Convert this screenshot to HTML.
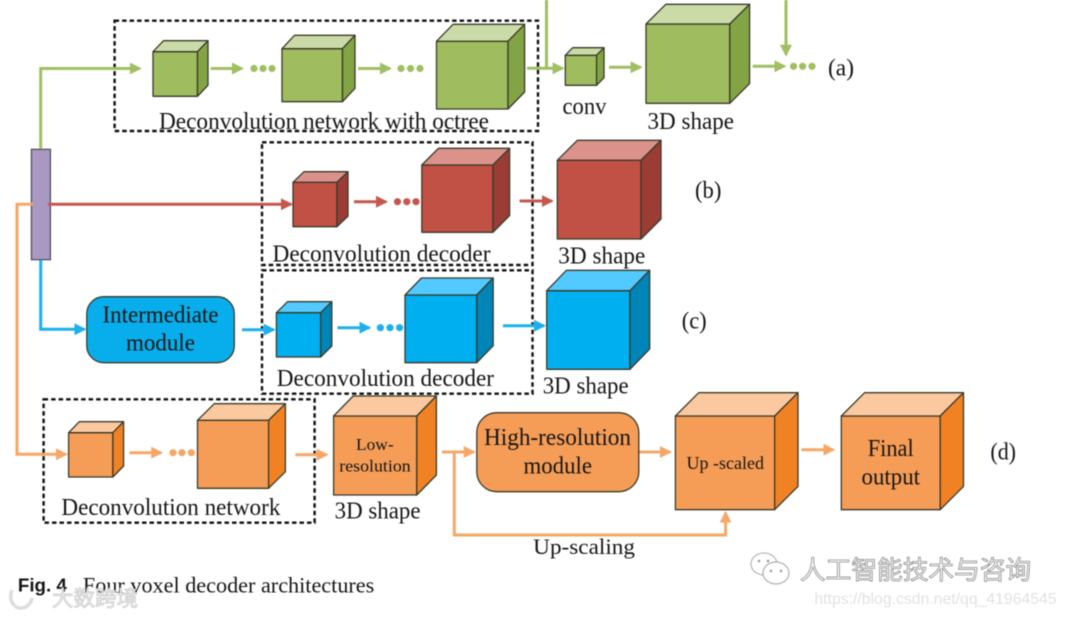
<!DOCTYPE html>
<html><head><meta charset="utf-8"><style>
html,body{margin:0;padding:0;background:#fff;width:1066px;height:617px;overflow:hidden}
svg{display:block;filter:blur(.45px)}
text{font-family:"Liberation Serif",serif;fill:#151515;font-size:24px}
.d{fill:none;stroke:#111;stroke-width:2.4;stroke-dasharray:4.5 3}
.k polygon,.k rect{stroke:#3a3a2a;stroke-width:1.3;stroke-linejoin:round}
.gf{fill:#9fbc5f}.gt{fill:#cbdba8}.gs{fill:#83a444}
.rf{fill:#c15045}.rt{fill:#da928a}.rs{fill:#9c3d35}
.bf{fill:#00aff0}.bt{fill:#52caff}.bs{fill:#0085b8}
.of{fill:#f59d57}.ot{fill:#fbc99f}.os{fill:#f08224}
.lg{stroke:#9fbf62;stroke-width:3;fill:none}.lr{stroke:#c5574c;stroke-width:3;fill:none}
.lb{stroke:#1cb0ec;stroke-width:3;fill:none}.lo{stroke:#f6a767;stroke-width:3;fill:none}
</style></head><body>
<svg width="1066" height="617" viewBox="0 0 1066 617" xmlns="http://www.w3.org/2000/svg">
<defs>
<marker id="ag" markerUnits="userSpaceOnUse" markerWidth="12" markerHeight="12" refX="10" refY="6" orient="auto"><path d="M0 0L12 6L0 12z" fill="#9fbf62"/></marker>
<marker id="ar" markerUnits="userSpaceOnUse" markerWidth="12" markerHeight="12" refX="10" refY="6" orient="auto"><path d="M0 0L12 6L0 12z" fill="#c5574c"/></marker>
<marker id="ab" markerUnits="userSpaceOnUse" markerWidth="12" markerHeight="12" refX="10" refY="6" orient="auto"><path d="M0 0L12 6L0 12z" fill="#1cb0ec"/></marker>
<marker id="ao" markerUnits="userSpaceOnUse" markerWidth="12" markerHeight="12" refX="10" refY="6" orient="auto"><path d="M0 0L12 6L0 12z" fill="#f6a767"/></marker>
</defs>

<!-- dashed boxes -->
<rect class="d" x="114.6" y="20.7" width="423.4" height="110.3"/>
<rect class="d" x="262" y="142.3" width="270.5" height="122.7"/>
<rect class="d" x="262" y="270.3" width="270.5" height="123.4"/>
<rect class="d" x="43.6" y="399.3" width="271" height="123.4"/>

<!-- purple bar -->
<rect x="31.4" y="149.3" width="19" height="110.4" fill="#a898c2" stroke="#4a4a55" stroke-width="1.2"/>

<!-- green connectors -->
<path class="lg" d="M40.7 149V68.5H139.8" marker-end="url(#ag)"/>
<path class="lg" d="M210.7 68.5H242" marker-end="url(#ag)"/>
<path class="lg" d="M358 68.5H390" marker-end="url(#ag)"/>
<path class="lg" d="M527 68.3H562.6" marker-end="url(#ag)"/>
<path class="lg" d="M546.5 0V68"/>
<path class="lg" d="M609 67.3H640.6" marker-end="url(#ag)"/>
<path class="lg" d="M752.7 66.3H784.5" marker-end="url(#ag)"/>
<path class="lg" d="M786 0V54.7" marker-end="url(#ag)"/>
<g fill="#9fbf62"><circle cx="254" cy="68.5" r="3.6"/><circle cx="263" cy="68.5" r="3.6"/><circle cx="272" cy="68.5" r="3.6"/>
<circle cx="401" cy="68.5" r="3.6"/><circle cx="410.500" cy="68.5" r="3.6"/><circle cx="420" cy="68.5" r="3.6"/>
<circle cx="793.500" cy="66.3" r="3.6"/><circle cx="802.600" cy="66.3" r="3.6"/><circle cx="812" cy="66.3" r="3.6"/></g>

<!-- red connectors -->
<path class="lr" d="M48 204.3H291" marker-end="url(#ar)"/>
<path class="lr" d="M354 201.7H386" marker-end="url(#ar)"/>
<path class="lr" d="M519.6 201H551.800" marker-end="url(#ar)"/>
<g fill="#c5574c"><circle cx="397.500" cy="201.700" r="3.600"/><circle cx="406.800" cy="201.700" r="3.600"/><circle cx="416" cy="201.700" r="3.600"/></g>

<!-- blue connectors -->
<path class="lb" d="M40.700 260V329.300H84.400" marker-end="url(#ab)"/>
<path class="lb" d="M242 329.700H273.700" marker-end="url(#ab)"/>
<path class="lb" d="M337.500 327.700H369.400" marker-end="url(#ab)"/>
<path class="lb" d="M503 325.700H544" marker-end="url(#ab)"/>
<g fill="#1cb0ec"><circle cx="380.400" cy="327.700" r="3.600"/><circle cx="390" cy="327.700" r="3.600"/><circle cx="399.600" cy="327.700" r="3.600"/></g>

<!-- orange connectors -->
<path class="lo" d="M33 204.300H17V454.300H66" marker-end="url(#ao)"/>
<path class="lo" d="M129.600 452.700H161.200" marker-end="url(#ao)"/>
<path class="lo" d="M295.400 454.700H326.600" marker-end="url(#ao)"/>
<path class="lo" d="M442 452H473.700" marker-end="url(#ao)"/>
<path class="lo" d="M454.300 452V535H725.600V512.700" marker-end="url(#ao)"/>
<path class="lo" d="M639 452H670" marker-end="url(#ao)"/>
<path class="lo" d="M801.500 449.700H833.300" marker-end="url(#ao)"/>
<g fill="#f6a767"><circle cx="173" cy="452.700" r="3.600"/><circle cx="182" cy="452.700" r="3.600"/><circle cx="191.400" cy="452.700" r="3.600"/></g>

<!-- cubes -->
<g class="k">
<rect class="gf" x="153" y="51.700" width="44.500" height="44.600"/><polygon class="gt" points="153,51.700 163.500,40.700 208,40.700 197.500,51.700"/><polygon class="gs" points="197.500,51.700 208,40.700 208,85.300 197.500,96.300"/>
<rect class="gf" x="282" y="48.700" width="60.500" height="53"/><polygon class="gt" points="282,48.700 294.500,35.300 355,35.300 342.500,48.700"/><polygon class="gs" points="342.500,48.700 355,35.300 355,88.300 342.500,101.700"/>
<rect class="gf" x="436.500" y="41.300" width="71.500" height="67.700"/><polygon class="gt" points="436.500,41.300 453,24.300 524.600,24.300 508,41.300"/><polygon class="gs" points="508,41.300 524.600,24.300 524.600,92 508,109"/>
<rect class="gf" x="565.300" y="55.300" width="31.300" height="30"/><polygon class="gt" points="565.300,55.300 572.700,47.700 604,47.700 596.600,55.300"/><polygon class="gs" points="596.600,55.300 604,47.700 604,77.700 596.600,85.300"/>
<rect class="gf" x="646" y="24" width="83.800" height="79.300"/><polygon class="gt" points="646,24 665.800,4.300 749.600,4.300 729.800,24"/><polygon class="gs" points="729.800,24 749.600,4.300 749.600,83.600 729.800,103.300"/>

<rect class="rf" x="293" y="182.300" width="44" height="44.400"/><polygon class="rt" points="293,182.300 304,171.700 348,171.700 337,182.300"/><polygon class="rs" points="337,182.300 348,171.700 348,216.100 337,226.700"/>
<rect class="rf" x="421.800" y="165" width="71.200" height="67.300"/><polygon class="rt" points="421.800,165 438.400,148.300 509.600,148.300 493,165"/><polygon class="rs" points="493,165 509.600,148.300 509.600,215.600 493,232.300"/>
<rect class="rf" x="557.300" y="160.300" width="83.700" height="78.700"/><polygon class="rt" points="557.300,160.300 577.300,140.300 661,140.300 641,160.300"/><polygon class="rs" points="641,160.300 661,140.300 661,219 641,239"/>

<rect class="bf" x="276.400" y="312.700" width="44.300" height="44.300"/><polygon class="bt" points="276.400,312.700 287.500,301.700 331.800,301.700 320.700,312.700"/><polygon class="bs" points="320.700,312.700 331.800,301.700 331.800,346 320.700,357"/>
<rect class="bf" x="405" y="295" width="71.800" height="67.700"/><polygon class="bt" points="405,295 421.400,278 493.200,278 476.800,295"/><polygon class="bs" points="476.800,295 493.200,278 493.200,345.700 476.800,362.700"/>
<rect class="bf" x="546.700" y="290.700" width="83.300" height="78.600"/><polygon class="bt" points="546.700,290.700 566.400,270.300 649.700,270.300 630,290.700"/><polygon class="bs" points="630,290.700 649.700,270.300 649.700,348.900 630,369.300"/>

<rect class="of" x="68.600" y="432.700" width="44.300" height="44.300"/><polygon class="ot" points="68.600,432.700 79.300,421.700 123.600,421.700 112.900,432.700"/><polygon class="os" points="112.900,432.700 123.600,421.700 123.600,466 112.900,477"/>
<rect class="of" x="197.500" y="420.300" width="71.100" height="68"/><polygon class="ot" points="197.500,420.300 214.300,403.700 285.400,403.700 268.600,420.300"/><polygon class="os" points="268.600,420.300 285.400,403.700 285.400,471.700 268.600,488.300"/>
<rect class="of" x="333.600" y="416" width="83.200" height="79"/><polygon class="ot" points="333.600,416 353.200,396 436.400,396 416.800,416"/><polygon class="os" points="416.800,416 436.400,396 436.400,475 416.800,495"/>
<rect class="of" x="675.400" y="416" width="99.300" height="93.700"/><polygon class="ot" points="675.400,416 698.700,392.700 798,392.700 774.700,416"/><polygon class="os" points="774.700,416 798,392.700 798,486.400 774.700,509.700"/>
<rect class="of" x="841.300" y="416" width="98.900" height="93.700"/><polygon class="ot" points="841.300,416 864.600,392.700 963.500,392.700 940.200,416"/><polygon class="os" points="940.200,416 963.500,392.700 963.500,486.400 940.200,509.700"/>

<rect class="bf" x="86.800" y="296.700" width="147.500" height="66" rx="17" ry="17" style="fill:#08aeec"/>
<rect class="of" x="476.800" y="412.700" width="162" height="79" rx="20" ry="20"/>
</g>

<!-- labels -->
<text x="159" y="129" textLength="330" lengthAdjust="spacingAndGlyphs">Deconvolution network with octree</text>
<text x="272.500" y="261.700" textLength="218" lengthAdjust="spacingAndGlyphs">Deconvolution decoder</text>
<text x="276.800" y="386" textLength="217.200" lengthAdjust="spacingAndGlyphs">Deconvolution decoder</text>
<text x="61.400" y="515" textLength="219" lengthAdjust="spacingAndGlyphs">Deconvolution network</text>
<text x="562.500" y="114" textLength="44" lengthAdjust="spacingAndGlyphs">conv</text>
<text x="647.500" y="129" textLength="86.500" lengthAdjust="spacingAndGlyphs">3D shape</text>
<text x="558.300" y="263.300" textLength="87" lengthAdjust="spacingAndGlyphs">3D shape</text>
<text x="542.700" y="393.300" textLength="86" lengthAdjust="spacingAndGlyphs">3D shape</text>
<text x="334.600" y="518.300" textLength="86" lengthAdjust="spacingAndGlyphs">3D shape</text>
<text x="828" y="75.700" textLength="26" lengthAdjust="spacingAndGlyphs">(a)</text>
<text x="695" y="198" textLength="26.400" lengthAdjust="spacingAndGlyphs">(b)</text>
<text x="681.700" y="328.300" textLength="25" lengthAdjust="spacingAndGlyphs">(c)</text>
<text x="990.400" y="459.300" textLength="25.600" lengthAdjust="spacingAndGlyphs">(d)</text>
<text x="102.500" y="322.700" textLength="116" lengthAdjust="spacingAndGlyphs">Intermediate</text>
<text x="126" y="350.700" textLength="69" lengthAdjust="spacingAndGlyphs">module</text>
<text x="356" y="450" style="font-size:17px" textLength="37.600" lengthAdjust="spacingAndGlyphs">Low-</text>
<text x="339.300" y="471.700" style="font-size:17px" textLength="71.400" lengthAdjust="spacingAndGlyphs">resolution</text>
<text x="484" y="445" textLength="147" lengthAdjust="spacingAndGlyphs">High-resolution</text>
<text x="523.500" y="473.300" textLength="68.500" lengthAdjust="spacingAndGlyphs">module</text>
<text x="686.500" y="469" style="font-size:17.500px" textLength="77.500" lengthAdjust="spacingAndGlyphs">Up -scaled</text>
<text x="867.700" y="456" textLength="46" lengthAdjust="spacingAndGlyphs">Final</text>
<text x="861.500" y="484.300" textLength="58.500" lengthAdjust="spacingAndGlyphs">output</text>
<text x="533.200" y="554" style="font-size:22.500px" textLength="101.800" lengthAdjust="spacingAndGlyphs">Up-scaling</text>

<!-- caption -->
<text x="17.900" y="591.700" style="font-family:'Liberation Sans',sans-serif;font-weight:bold;font-size:18px" textLength="48.900" lengthAdjust="spacingAndGlyphs">Fig. 4</text>
<text x="82.900" y="592.300" style="font-size:22.500px" textLength="291.400" lengthAdjust="spacingAndGlyphs">Four voxel decoder architectures</text>

<!-- watermarks -->
<path d="M12 590C8 600 14 609 22 608C28 607 31 603 32 598" fill="none" stroke="#dddddd" stroke-width="3.500"/>
<g stroke-width="1">
<ellipse cx="764" cy="564" rx="13" ry="11" fill="#fff" stroke="#a8a8a8"/>
<ellipse cx="776" cy="573" rx="13" ry="11" fill="#fff" stroke="#a0a0a0"/>
<circle cx="759" cy="561" r="1.300" fill="#999"/><circle cx="768" cy="561" r="1.300" fill="#999"/>
<circle cx="771" cy="571" r="1.300" fill="#999"/><circle cx="781" cy="571" r="1.300" fill="#999"/>
</g>
<text x="52" y="606" style="font-family:'Liberation Sans','Noto Sans CJK SC',sans-serif;font-size:21.500px;fill:#eeeeee;stroke:#c8c8c8;stroke-width:.7">大数跨境</text>
<text x="800" y="579" style="font-family:'Liberation Sans','Noto Sans CJK SC',sans-serif;font-size:25.700px;fill:#ffffff;stroke:#8a8a8a;stroke-width:.8">人工智能技术与咨询</text>
<text x="814.400" y="604" style="font-family:'Liberation Sans',sans-serif;font-size:16px;fill:#e2e2e2" textLength="242.200" lengthAdjust="spacingAndGlyphs">https://blog.csdn.net/qq_41964545</text>
</svg>
</body></html>
